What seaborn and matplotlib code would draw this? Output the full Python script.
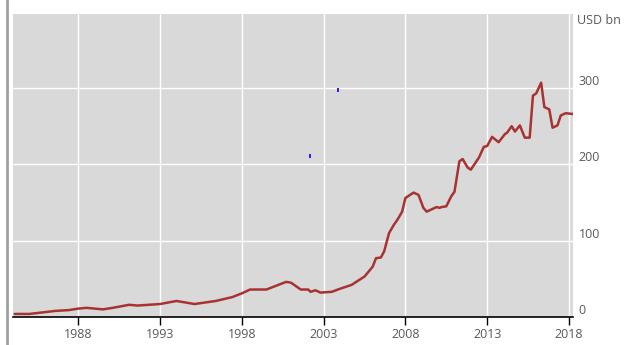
import numpy as np
import pandas as pd
import matplotlib
matplotlib.use("Agg")
import matplotlib.pyplot as plt
import seaborn as sns

# ---- data ----
years = [1984.1, 1985.0, 1986.6, 1987.4, 1988.0, 1988.5, 1989.5, 1990.1, 1991.1, 1991.6,
         1993.0, 1994.0, 1995.1, 1996.4, 1997.4, 1998.0, 1998.5, 1999.5, 2000.1, 2000.7,
         2001.0, 2001.6, 2002.05, 2002.2, 2002.5, 2002.8, 2003.5, 2004.0, 2004.7, 2005.5,
         2006.0, 2006.2, 2006.5, 2006.7, 2007.0, 2007.3, 2007.5, 2007.8, 2008.0, 2008.5,
         2008.8, 2009.1, 2009.3, 2009.6, 2009.9, 2010.1, 2010.2, 2010.5, 2010.8, 2011.0,
         2011.3, 2011.5, 2011.8, 2012.0, 2012.5, 2012.8, 2013.0, 2013.3, 2013.7, 2014.1,
         2014.2, 2014.5, 2014.7, 2015.0, 2015.3, 2015.6, 2015.8, 2016.0, 2016.3, 2016.5,
         2016.8, 2017.0, 2017.3, 2017.5, 2017.8, 2018.24]
values = [4, 4, 8, 9, 11, 12, 10, 12, 16, 15,
          17, 21, 17, 21, 26, 31, 36, 36, 41, 46,
          45, 36, 36, 33, 35, 32, 33, 37, 42, 53,
          66, 77, 78, 86, 110, 121, 127, 138, 156, 163,
          160, 143, 138, 141, 144, 143, 144, 145, 158, 164,
          204, 207, 196, 193, 209, 223, 224, 236, 229, 240,
          241, 250, 243, 251, 235, 235, 290, 293, 307, 275,
          272, 248, 251, 264, 267, 266]
stray_x = [2002.14, 2003.9]
stray_y = [211, 297]
x_ticks = [1988, 1993, 1998, 2003, 2008, 2013, 2018]
y_ticks = [0, 100, 200, 300]
unit_label = "USD bn"

df = pd.DataFrame({"year": years, "value": values})

sns.set_theme(style="dark")
plt.rcParams['font.family'] = ['Open Sans', 'DejaVu Sans']

fig = plt.figure(figsize=(6.25, 3.45), dpi=100)
fig.patch.set_facecolor("white")
ax = fig.add_axes([13/625, 1 - 317/345, (573 - 13)/625, (317 - 14)/345])
ax.set_facecolor("#d9d9d9")

sns.lineplot(data=df, x="year", y="value", ax=ax, color="#a83232", linewidth=1.8)
ax.plot(stray_x, stray_y, linestyle="none", marker="|", color="#0000ff",
        markersize=3, markeredgewidth=1.2)

ax.set_xlim(1984.0, 2018.25)
ax.set_ylim(0, 397)
ax.set_xticks(x_ticks)
ax.set_xticklabels([str(t) for t in x_ticks])
ax.set_yticks(y_ticks)
ax.set_yticklabels([str(t) for t in y_ticks])
ax.grid(True, color="white", linewidth=1.0)
ax.set_axisbelow(True)

for s in ["top", "right", "left"]:
    ax.spines[s].set_visible(False)
ax.spines["bottom"].set_visible(True)
ax.spines["bottom"].set_color("black")
ax.spines["bottom"].set_linewidth(1.2)

ax.tick_params(axis="x", bottom=True, length=6, width=1, color="black",
               labelsize=9, labelcolor="#5a5a5a", pad=2, direction="out")
ax.yaxis.tick_right()
ax.tick_params(axis="y", right=False, left=False, length=0, labelsize=9,
               labelcolor="#5a5a5a", pad=4)
for lbl in ax.get_yticklabels():
    lbl.set_verticalalignment("bottom")
ax.set_xlabel("")
ax.set_ylabel("")

ax.text(1.0 + 4/560, 0.98, unit_label, transform=ax.transAxes, ha="left", va="center",
        fontsize=9, color="#5a5a5a")

# left border line
fig.add_artist(plt.Line2D([7/625, 7/625], [0, 1], transform=fig.transFigure,
                          color="#a0a0a0", linewidth=2))

fig.savefig("out.png", dpi=100)
